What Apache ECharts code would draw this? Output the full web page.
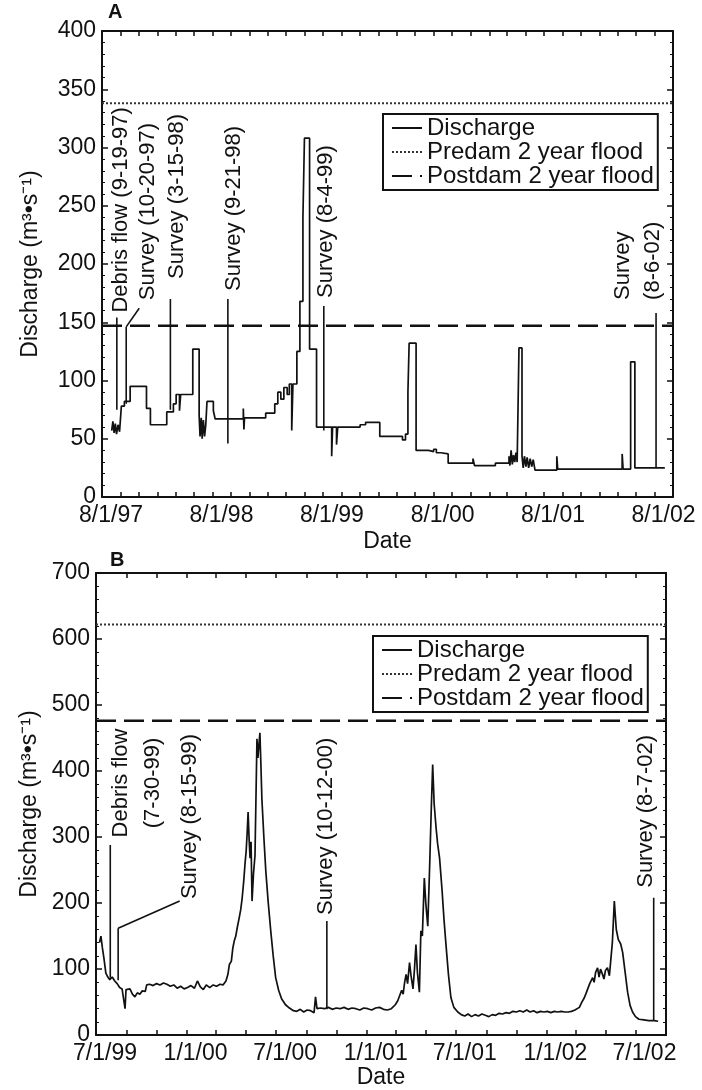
<!DOCTYPE html>
<html><head><meta charset="utf-8">
<script src="https://cdn.jsdelivr.net/npm/echarts@6/dist/echarts.min.js"></script>
<style>html,body{margin:0;padding:0;background:#fff}#c{width:702px;height:1090px}</style>
</head><body><div id="c"></div>
<script>
// ---------------- DATA: Panel A ----------------
const aTickLabels = ['8/1/97','8/1/98','8/1/99','8/1/00','8/1/01','8/1/02'];
const aRange = ['1997-08-01','2002-10-01'];
const aDates = ['1997-09-02','1997-09-06','1997-09-10','1997-09-14','1997-09-18','1997-09-23','1997-09-28','1997-10-04','1997-10-14','1997-11-02',
'1997-12-26','1998-01-08','1998-03-03','1998-03-25','1998-04-03','1998-04-14','1998-04-18','1998-05-28','1998-06-18','1998-06-21',
'1998-06-25','1998-06-28','1998-07-02','1998-07-06','1998-07-10','1998-07-14','1998-08-04','1998-08-10','1998-11-11','1998-11-13',
'1998-11-15','1999-01-24','1999-02-23','1999-03-05','1999-03-15','1999-03-25','1999-04-05','1999-04-12','1999-04-20','1999-04-24',
'1999-05-07','1999-05-17','1999-05-27','1999-06-01','1999-06-18','1999-07-11','1999-08-30','1999-09-02','1999-09-15','1999-09-19',
'1999-12-02','1999-12-20','2000-02-05','2000-04-20','2000-04-30','2000-05-08','2000-05-12','2000-06-04','2000-07-15','2000-08-01',
'2000-08-10','2000-08-25','2000-09-18','2000-12-09','2000-12-14','2001-02-21','2001-04-07','2001-04-10','2001-04-14','2001-04-18',
'2001-04-22','2001-04-26','2001-04-30','2001-05-04','2001-05-10','2001-05-20','2001-05-24','2001-05-28','2001-06-02','2001-06-06',
'2001-06-11','2001-06-16','2001-06-21','2001-06-26','2001-07-02','2001-09-12','2001-09-15','2002-04-16','2002-04-19','2002-05-14',
'2002-05-28','2002-09-04'];
const aValues = [57,65,55,63,54,62,56,78,82,95,
76,62,73,80,88,74,88,127,70,52,
68,50,66,52,62,82,74,67,76,58,
68,72,80,90,84,94,88,97,57,97,
125,168,240,308,127,60,35,60,45,60,
62,64,52,49,54,90,132,40,39,41,
38,37,29,33,27,29,35,27,40,28,
36,30,38,30,128,35,25,35,26,34,
25,33,26,32,23,35,24,37,24,116,
25,25];
const aPredam = 338;
const aPostdam = 147;
const aNoteText = ['Debris flow (9-19-97)','Survey (10-20-97)','Survey (3-15-98)','Survey (9-21-98)','Survey (8-4-99)','Survey\n(8-6-02)'];
const aNoteDate = ['1997-09-19','1997-10-20','1998-03-15','1998-09-21','1999-08-04','2002-08-06'];
const aNoteLow  = [75,80,75,46,57,25];
const aNoteHigh = [154,146,170,170,164,158];
const aLeadDate  = [null,'1997-12-02',null,null,null,null];
const aLeadValue = [null,162,null,null,null,null];

// ---------------- DATA: Panel B ----------------
const bTickLabels = ['7/1/99','1/1/00','7/1/00','1/1/01','7/1/01','1/1/02','7/1/02'];
const bRange = ['1999-07-01','2002-09-01'];
const bDates = ['1999-07-08','1999-07-11','1999-07-14','1999-07-17','1999-07-21','1999-07-25','1999-07-29','1999-08-03','1999-08-08','1999-08-13',
'1999-08-18','1999-08-23','1999-08-27','1999-08-29','1999-08-31','1999-09-04','1999-09-08','1999-09-13','1999-09-18','1999-09-23',
'1999-09-28','1999-10-03','1999-10-09','1999-10-12','1999-10-18','1999-10-25','1999-11-01','1999-11-08','1999-11-15','1999-11-22',
'1999-11-29','1999-12-06','1999-12-13','1999-12-20','1999-12-27','2000-01-03','2000-01-10','2000-01-17','2000-01-23','2000-01-29',
'2000-02-04','2000-02-10','2000-02-17','2000-02-24','2000-03-02','2000-03-09','2000-03-15','2000-03-21','2000-03-25','2000-03-28',
'2000-04-01','2000-04-04','2000-04-07','2000-04-10','2000-04-13','2000-04-17','2000-04-20','2000-04-23','2000-04-26','2000-04-29',
'2000-05-01','2000-05-03','2000-05-05','2000-05-07','2000-05-09','2000-05-11','2000-05-13','2000-05-16','2000-05-19','2000-05-21',
'2000-05-23','2000-05-25','2000-05-27','2000-05-29','2000-05-31','2000-06-02','2000-06-06','2000-06-10','2000-06-15','2000-06-20',
'2000-06-25','2000-06-30','2000-07-06','2000-07-12','2000-07-20','2000-07-28','2000-08-05','2000-08-12','2000-08-19','2000-08-26',
'2000-09-02','2000-09-09','2000-09-16','2000-09-19','2000-09-22','2000-09-29','2000-10-07','2000-10-15','2000-10-23','2000-10-31',
'2000-11-08','2000-11-16','2000-11-24','2000-12-02','2000-12-10','2000-12-18','2000-12-26','2001-01-03','2001-01-11','2001-01-19',
'2001-01-27','2001-02-04','2001-02-12','2001-02-20','2001-02-28','2001-03-05','2001-03-09','2001-03-13','2001-03-16','2001-03-19',
'2001-03-22','2001-03-25','2001-03-29','2001-04-01','2001-04-05','2001-04-08','2001-04-11','2001-04-14','2001-04-18','2001-04-21',
'2001-04-24','2001-04-28','2001-05-01','2001-05-05','2001-05-09','2001-05-12','2001-05-15','2001-05-18','2001-05-22','2001-05-25',
'2001-05-29','2001-06-03','2001-06-07','2001-06-11','2001-06-16','2001-06-21','2001-06-27','2001-07-05','2001-07-12','2001-07-19',
'2001-07-26','2001-08-02','2001-08-09','2001-08-16','2001-08-23','2001-08-30','2001-09-06','2001-09-13','2001-09-20','2001-09-27',
'2001-10-04','2001-10-11','2001-10-18','2001-10-25','2001-11-01','2001-11-08','2001-11-15','2001-11-22','2001-11-29','2001-12-06',
'2001-12-13','2001-12-20','2001-12-27','2002-01-03','2002-01-10','2002-01-17','2002-01-24','2002-01-31','2002-02-07','2002-02-14',
'2002-02-21','2002-02-28','2002-03-04','2002-03-09','2002-03-14','2002-03-18','2002-03-22','2002-03-26','2002-03-30','2002-04-02',
'2002-04-05','2002-04-08','2002-04-11','2002-04-15','2002-04-18','2002-04-21','2002-04-25','2002-04-28','2002-05-01','2002-05-05',
'2002-05-09','2002-05-12','2002-05-15','2002-05-19','2002-05-23','2002-05-27','2002-06-01','2002-06-05','2002-06-10','2002-06-15',
'2002-06-20','2002-06-25','2002-07-01','2002-07-08','2002-07-18','2002-07-28','2002-08-08','2002-08-16'];
const bValues = [140,150,132,117,94,88,84,88,82,78,
72,70,68,40,69,72,70,62,58,64,
62,67,66,76,77,75,78,76,79,77,
74,76,71,74,70,72,75,71,82,73,
69,76,72,76,74,77,76,82,92,107,
112,132,143,150,163,178,190,208,232,262,
278,305,338,298,268,293,203,245,272,360,
449,420,440,458,410,358,300,248,200,158,
120,87,68,55,46,41,37,36,39,35,
38,37,34,58,40,41,40,42,39,41,
40,42,39,41,40,38,41,40,38,41,
42,39,38,40,46,52,55,68,62,80,
92,78,110,90,70,100,137,95,65,158,
150,238,200,165,260,339,410,350,313,290,
268,220,175,137,92,57,42,35,31,29,
32,28,31,29,32,30,28,31,30,33,
32,34,33,36,35,37,35,38,35,37,
34,36,35,36,34,36,35,36,35,35,
36,38,40,42,50,55,62,70,78,75,
87,80,95,102,88,100,92,85,98,102,
90,87,140,203,160,145,138,125,95,65,
45,35,28,24,23,22,22,21];
const bPredam = 622;
const bPostdam = 476;
const bNoteText = ['Debris flow\n(7-30-99)','Survey (8-15-99)','Survey (10-12-00)','Survey (8-7-02)'];
const bNoteDate = ['1999-07-30','1999-08-15','2000-10-12','2002-08-07'];
const bNoteLow  = [87,83,39,23];
const bNoteHigh = [288,162,173,208];
const bLeadDate  = [null,'1999-12-18',null,null];
const bLeadValue = [null,203,null,null];

// ---------------- layout / style ----------------
const FONT = '"Liberation Sans", Arial, Helvetica, sans-serif';
const INK = '#111';
const FS = 23;
const NFS = 22;
const LFS = 24;
const aNoteLayout = [{dx:4,dy:-5,align:'left'},{dx:9,dy:-8,align:'left'},{dx:7,dy:-20,align:'left'},{dx:6,dy:-8,align:'left'},{dx:2,dy:-8,align:'left'},{dx:-18,dy:-13,align:'left',lh:30}];
const bNoteLayout = [{dx:27,dy:-62,align:'center',lh:32},{dx:10,dy:-2,align:'left'},{dx:-1,dy:-6,align:'left'},{dx:-8,dy:-10,align:'left'}];

const T = s => Date.parse(s);
function parseTick(l){const p=l.split('/').map(Number);const y=p[2]<50?2000+p[2]:1900+p[2];return Date.UTC(y,p[0]-1,p[1]);}
function fmt(v){const d=new Date(v);return (d.getUTCMonth()+1)+'/'+d.getUTCDate()+'/'+String(d.getUTCFullYear()).slice(2);}
function monthTicks(start,end,step){const out=[];const s=new Date(start);let y=s.getUTCFullYear(),m=s.getUTCMonth();let t=Date.UTC(y,m,1);while(t<=end){out.push(t);m+=step;t=Date.UTC(y,m,1);}return out;}

function xAxes(grid,range,labels,nameGap){
  const min=T(range[0]),max=T(range[1]);
  const ticks=monthTicks(min,max,2);
  const base={type:'value',gridIndex:grid,min:min,max:max,splitLine:{show:false},
    axisLine:{show:true,onZero:false,lineStyle:{color:INK,width:2}},
    axisTick:{show:true,inside:true,length:5,customValues:ticks,lineStyle:{color:INK,width:1.5}}};
  return [
    Object.assign({},base,{position:'bottom',
      axisLabel:{show:true,customValues:labels.map(parseTick),formatter:fmt,fontSize:FS,color:INK,fontFamily:FONT,margin:7,padding:[0,0,0,18]},
      name:'Date',nameLocation:'middle',nameGap:nameGap,nameTextStyle:{fontSize:FS,color:INK,fontFamily:FONT}}),
    Object.assign({},base,{position:'top',axisLabel:{show:false}})
  ];
}
function yAxes(grid,max,interval,gap){
  const base={type:'value',gridIndex:grid,min:0,max:max,interval:interval,splitLine:{show:false},
    axisLine:{show:true,onZero:false,lineStyle:{color:INK,width:2}},
    axisTick:{show:true,inside:true,length:6,lineStyle:{color:INK,width:1.5}},
    minorTick:{show:true,splitNumber:5,length:3,lineStyle:{color:INK,width:1}}};
  return [
    Object.assign({},base,{position:'left',axisLabel:{fontSize:FS,color:INK,fontFamily:FONT,margin:6},
      name:'Discharge (m\u00B3\u2022s\u207B\u00B9)',nameLocation:'middle',nameGap:gap,nameTextStyle:{fontSize:FS,color:INK,fontFamily:FONT}}),
    Object.assign({},base,{position:'right',axisLabel:{show:false}})
  ];
}

function panelSeries(xi,yi,dates,values,range,predam,postdam,nDate,nLow,nHigh,lDate,lVal,step){
  const s=[];
  s.push({name:'Discharge',type:'line',xAxisIndex:xi,yAxisIndex:yi,step:step,showSymbol:false,symbol:'none',
    itemStyle:{color:INK},data:dates.map((d,i)=>[T(d),values[i]]),lineStyle:{color:INK,width:1.7},z:5});
  s.push({name:'Predam 2 year flood',type:'line',xAxisIndex:xi,yAxisIndex:yi,symbol:'none',itemStyle:{color:'#333'},
    data:[[T(range[0]),predam],[T(range[1]),predam]],lineStyle:{color:'#333',width:2,type:[2,2]}});
  s.push({name:'Postdam 2 year flood',type:'line',xAxisIndex:xi,yAxisIndex:yi,symbol:'none',itemStyle:{color:INK},
    data:[[T(range[0]),postdam],[T(range[1]),postdam]],lineStyle:{color:INK,width:2.5,type:[20,8]}});
  nDate.forEach((d,i)=>{
    s.push({type:'line',xAxisIndex:xi,yAxisIndex:yi,symbol:'none',silent:true,
      data:[[T(d),nLow[i]],[T(d),nHigh[i]]],lineStyle:{color:INK,width:1.6},z:6});
    if(lDate[i]){
      s.push({type:'line',xAxisIndex:xi,yAxisIndex:yi,symbol:'none',silent:true,
        data:[[T(d),nHigh[i]],[T(lDate[i]),lVal[i]]],lineStyle:{color:INK,width:1.6},z:6});
    }
  });
  return s;
}

const legendBase={orient:'vertical',itemWidth:30,itemHeight:14,itemGap:0,
  data:['Discharge','Predam 2 year flood','Postdam 2 year flood'],
  itemStyle:{opacity:0},
  textStyle:{fontSize:LFS,color:INK,fontFamily:FONT},
  borderColor:INK,borderWidth:2,borderRadius:0,padding:[2,4,2,8],backgroundColor:'#fff',selectedMode:false};

const xa=xAxes(0,aRange,aTickLabels,33), xb=xAxes(1,bRange,bTickLabels,30);
const ya=yAxes(0,400,50,60), yb=yAxes(1,700,100,55);

const option={
  animation:false,
  backgroundColor:'#fff',
  grid:[{left:102,top:31,width:571,height:466,containLabel:false},
        {left:96,top:573,width:570,height:465,containLabel:false}],
  xAxis:[xa[0],xa[1],xb[0],xb[1]],
  yAxis:[ya[0],ya[1],yb[0],yb[1]],
  legend:[Object.assign({},legendBase,{left:383,top:114}),Object.assign({},legendBase,{left:373,top:636})],
  series:[].concat(
    panelSeries(0,0,aDates,aValues,aRange,aPredam,aPostdam,aNoteDate,aNoteLow,aNoteHigh,aLeadDate,aLeadValue,'end'),
    panelSeries(2,2,bDates,bValues,bRange,bPredam,bPostdam,bNoteDate,bNoteLow,bNoteHigh,bLeadDate,bLeadValue,false)
  )
};

const chart=echarts.init(document.getElementById('c'),null,{renderer:'canvas'});
chart.setOption(option);

function noteGraphics(xi,yi,nText,nDate,nHigh,lDate,lVal,layout){
  return nText.map((t,i)=>{
    const anchor = lDate[i] ? [T(lDate[i]),lVal[i]] : [T(nDate[i]),nHigh[i]];
    const p = chart.convertToPixel({xAxisIndex:xi,yAxisIndex:yi},anchor);
    const L = layout[i];
    return {type:'text',x:p[0]+L.dx,y:p[1]+L.dy,rotation:Math.PI/2,silent:true,
      style:{text:t,fill:INK,font:NFS+'px '+FONT,align:L.align,verticalAlign:'middle',lineHeight:L.lh||NFS}};
  });
}
const g=[].concat(
  noteGraphics(0,0,aNoteText,aNoteDate,aNoteHigh,aLeadDate,aLeadValue,aNoteLayout),
  noteGraphics(2,2,bNoteText,bNoteDate,bNoteHigh,bLeadDate,bLeadValue,bNoteLayout),
  [{type:'text',x:108,y:2,silent:true,style:{text:'A',fill:INK,font:'bold 20px '+FONT}},
   {type:'text',x:110,y:550,silent:true,style:{text:'B',fill:INK,font:'bold 20px '+FONT}}]
);
chart.setOption({graphic:g});
</script></body></html>
